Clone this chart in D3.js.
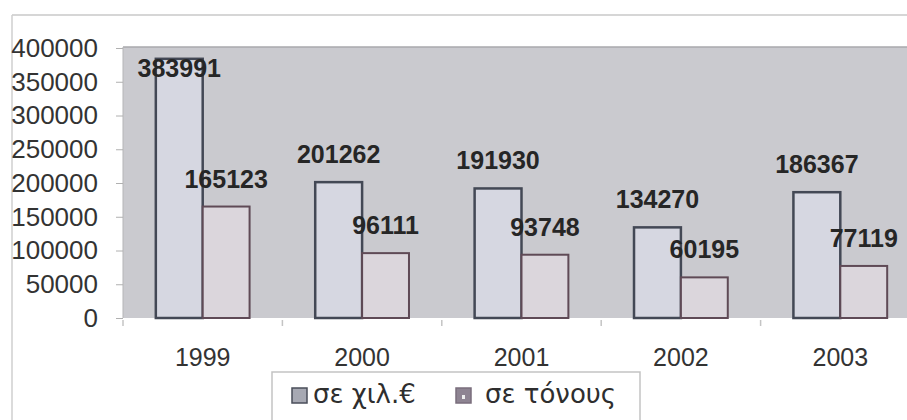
<!DOCTYPE html>
<html>
<head>
<meta charset="utf-8">
<script src="https://cdn.jsdelivr.net/npm/d3@7"></script>
<style>
  body { margin: 0; background: #fff; }
  svg { display: block; font-family: "Liberation Sans", Arial, sans-serif; }
</style>
</head>
<body>
<svg id="chart" width="907" height="420"></svg>
<script>
const years = ["1999", "2000", "2001", "2002", "2003"];
const euros = [383991, 201262, 191930, 134270, 186367];   // σε χιλ.€
const tonnes = [165123, 96111, 93748, 60195, 77119];      // σε τόνους
const seriesNames = ["σε χιλ.€", "σε τόνους"];
const yTicks = [0, 50000, 100000, 150000, 200000, 250000, 300000, 350000, 400000];

const fills = ["#d6d7e1", "#dbd6dc"];
const strokes = ["#434855", "#5f4a56"];

const svg = d3.select("#chart");

// chart area frame (left and top edges only are in view)
svg.append("line").attr("x1", 12).attr("x2", 907).attr("y1", 15).attr("y2", 15)
  .attr("stroke", "#c9c9c9").attr("stroke-width", 1.5);
svg.append("line").attr("x1", 12).attr("x2", 12).attr("y1", 15).attr("y2", 420)
  .attr("stroke", "#cfcfcf").attr("stroke-width", 1.5);

const pLeft = 123, pRight = 920, pTop = 48, pBottom = 318;

const y = d3.scaleLinear().domain([0, 400000]).range([pBottom, pTop]);
const x0 = d3.scaleBand().domain(years).range([pLeft, pRight]);
const x1 = d3.scaleBand().domain([0, 1]).range([0, x0.bandwidth()]).paddingOuter(0.7);

// plot area
svg.append("rect").attr("x", pLeft).attr("y", pTop - 1).attr("width", pRight - pLeft)
  .attr("height", pBottom - pTop + 1).attr("fill", "#cacacf");
svg.append("line").attr("x1", pLeft).attr("x2", pRight).attr("y1", pTop - 1).attr("y2", pTop - 1)
  .attr("stroke", "#a9a9ad").attr("stroke-width", 1.5);
svg.append("line").attr("x1", pLeft).attr("x2", pLeft).attr("y1", pTop - 1).attr("y2", pBottom)
  .attr("stroke", "#b5b5b8").attr("stroke-width", 1);

// y axis
const yAxis = svg.append("g").attr("transform", `translate(${pLeft},0)`)
  .call(d3.axisLeft(y).tickValues(yTicks).tickFormat(d3.format("d")).tickSize(7).tickPadding(18));
yAxis.select(".domain").remove();
yAxis.selectAll("line").attr("stroke", "#b0b0b0");
yAxis.selectAll("text").attr("font-size", 26).attr("fill", "#333").attr("font-family", "Liberation Sans, Arial, sans-serif");

// x axis
const xAxis = svg.append("g").attr("transform", `translate(0,${pBottom})`)
  .call(d3.axisBottom(x0).tickSize(0).tickPadding(30));
xAxis.select(".domain").remove();
xAxis.selectAll("text").attr("font-size", 25).attr("fill", "#333").attr("font-family", "Liberation Sans, Arial, sans-serif");
svg.append("g").selectAll("line").data(years.concat(["end"])).enter().append("line")
  .attr("x1", (d, i) => pLeft + i * x0.step()).attr("x2", (d, i) => pLeft + i * x0.step())
  .attr("y1", pBottom + 2).attr("y2", pBottom + 8).attr("stroke", "#c4c4c4").attr("stroke-width", 1.5);

// bars
const rows = years.map((yr, i) => ({ year: yr, vals: [euros[i], tonnes[i]] }));
const groups = svg.append("g").selectAll("g").data(rows).enter().append("g")
  .attr("transform", d => `translate(${x0(d.year)},0)`);

groups.selectAll("rect").data(d => d.vals.map((v, s) => ({ v, s }))).enter().append("rect")
  .attr("x", d => x1(d.s))
  .attr("y", d => Math.max(y(d.v), pTop))
  .attr("width", x1.bandwidth())
  .attr("height", d => pBottom - Math.max(y(d.v), pTop))
  .attr("fill", d => fills[d.s])
  .attr("stroke", d => strokes[d.s])
  .attr("stroke-width", d => d.s === 0 ? 2.5 : 2);

// data labels
groups.selectAll("text").data(d => d.vals.map((v, s) => ({ v, s }))).enter().append("text")
  .attr("x", d => x1(d.s) + x1.bandwidth() / 2)
  .attr("y", d => Math.max(y(d.v) - 19, pTop + 29))
  .attr("text-anchor", "middle")
  .attr("font-size", 25).attr("font-weight", "bold").attr("fill", "#262626")
  .text(d => d.v);

// legend
const legend = svg.append("g");
legend.append("rect").attr("x", 272).attr("y", 372).attr("width", 368).attr("height", 60)
  .attr("fill", "#fff").attr("stroke", "#c3c3c3").attr("stroke-width", 1.5);
const items = [{ x: 292, tx: 313 }, { x: 456, tx: 485 }];
items.forEach((it, i) => {
  legend.append("rect").attr("x", it.x).attr("y", 388).attr("width", 15).attr("height", 15)
    .attr("fill", i === 0 ? "#a7a9b3" : "#8e8492").attr("stroke", i === 0 ? "#4a4e5a" : "#7a6e7c").attr("stroke-width", 1.5);
  if (i === 1) {
    legend.append("rect").attr("x", it.x + 6).attr("y", 395).attr("width", 3).attr("height", 4).attr("fill", "#eee");
  }
  legend.append("text").attr("x", it.tx).attr("y", 403).attr("font-size", 26)
    .attr("font-family", "DejaVu Sans, Verdana, sans-serif").attr("fill", "#2e2e2e")
    .text(seriesNames[i]);
});
</script>
</body>
</html>
